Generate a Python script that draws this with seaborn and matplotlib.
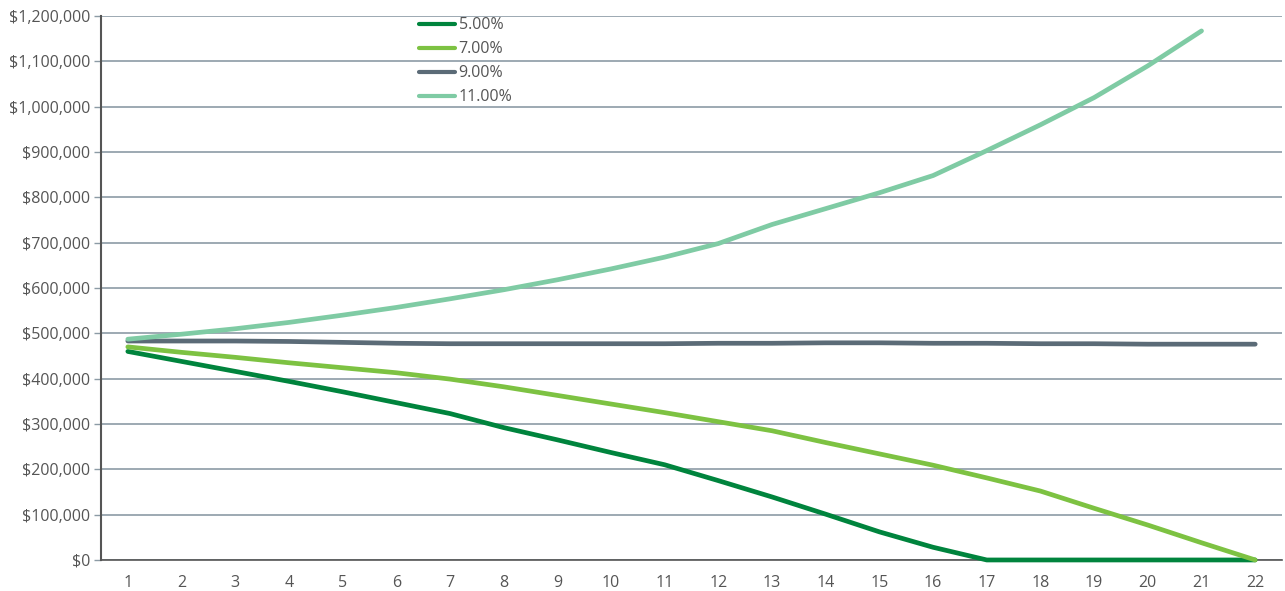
import numpy as np
import pandas as pd
import matplotlib.pyplot as plt
import seaborn as sns
from matplotlib.ticker import FuncFormatter, MultipleLocator

years = list(range(1, 23))
rate_labels = ["5.00%", "7.00%", "9.00%", "11.00%"]

# portfolio value in $ thousands
r5 = [460, 438, 416, 394, 371, 347, 323, 292, 265, 237, 210, 175, 139, 101, 62, 28,
      0, 0, 0, 0, 0, 0]
r7 = [470, 458, 447, 435, 424, 413, 399, 382, 363, 344, 325, 305, 285, 259, 234, 209,
      181, 152, 114, 77, 38, 0]
r9 = [483, 483, 483, 482, 480, 478, 477, 477, 477, 477, 477, 478, 478, 479, 479, 478,
      478, 477, 477, 476, 476, 476]
r11 = [487, 498, 510, 524, 540, 557, 576, 596, 618, 642, 668, 698, 740, 775, 810, 848,
       903, 960, 1020, 1090, 1167, np.nan]

colors = ["#00843D", "#7DC242", "#5B6B77", "#7FCBA4"]

df = pd.DataFrame({"Year": years, "5.00%": r5, "7.00%": r7, "9.00%": r9, "11.00%": r11})
long = df.melt(id_vars="Year", var_name="Rate", value_name="Value")
long["Value"] = long["Value"] * 1000

sns.set_style("white")
plt.rcParams["font.family"] = ["Open Sans", "DejaVu Sans"]

fig = plt.figure(figsize=(12.85, 5.91), dpi=100)
ax = fig.add_axes([0.0786, 0.0525, 0.9191, 0.9205])

sns.lineplot(data=long, x="Year", y="Value", hue="Rate", hue_order=rate_labels,
             palette=dict(zip(rate_labels, colors)), linewidth=3.4, ax=ax,
             solid_capstyle="round", clip_on=False, zorder=3)

ax.set_xlim(0.5, 22.5)
ax.set_ylim(0, 1200000)
ax.yaxis.set_major_locator(MultipleLocator(100000))
ax.yaxis.set_major_formatter(FuncFormatter(lambda v, p: f"${v:,.0f}"))
ax.set_xticks(years)
ax.set_xticks(np.arange(0.5, 23, 1), minor=True)
ax.tick_params(axis="x", which="major", length=0, pad=11, labelsize=11.5, labelcolor="#555555")
ax.tick_params(axis="x", which="minor", length=5, width=1, color="#8C9BA5", direction="out")
ax.tick_params(axis="y", length=5, width=1, color="#8C9BA5", pad=3, labelsize=11.5,
               labelcolor="#555555", left=True)
ax.set_xlabel("")
ax.set_ylabel("")

ax.grid(axis="y", color="#8C9BA5", linewidth=1.2)
ax.set_axisbelow(True)
for s in ["top", "right"]:
    ax.spines[s].set_visible(False)
ax.spines["left"].set_color("#555555")
ax.spines["left"].set_linewidth(1.5)
ax.spines["bottom"].set_color("#555555")
ax.spines["bottom"].set_linewidth(1.2)

leg = ax.legend(loc="upper left", bbox_to_anchor=(0.2575, 1.024), frameon=False,
                fontsize=11.5, handlelength=2.2, handletextpad=0.25, labelspacing=0.5)
for t in leg.get_texts():
    t.set_color("#555555")
for h in leg.get_lines():
    h.set_linewidth(3)

fig.savefig("out.png", dpi=100)
